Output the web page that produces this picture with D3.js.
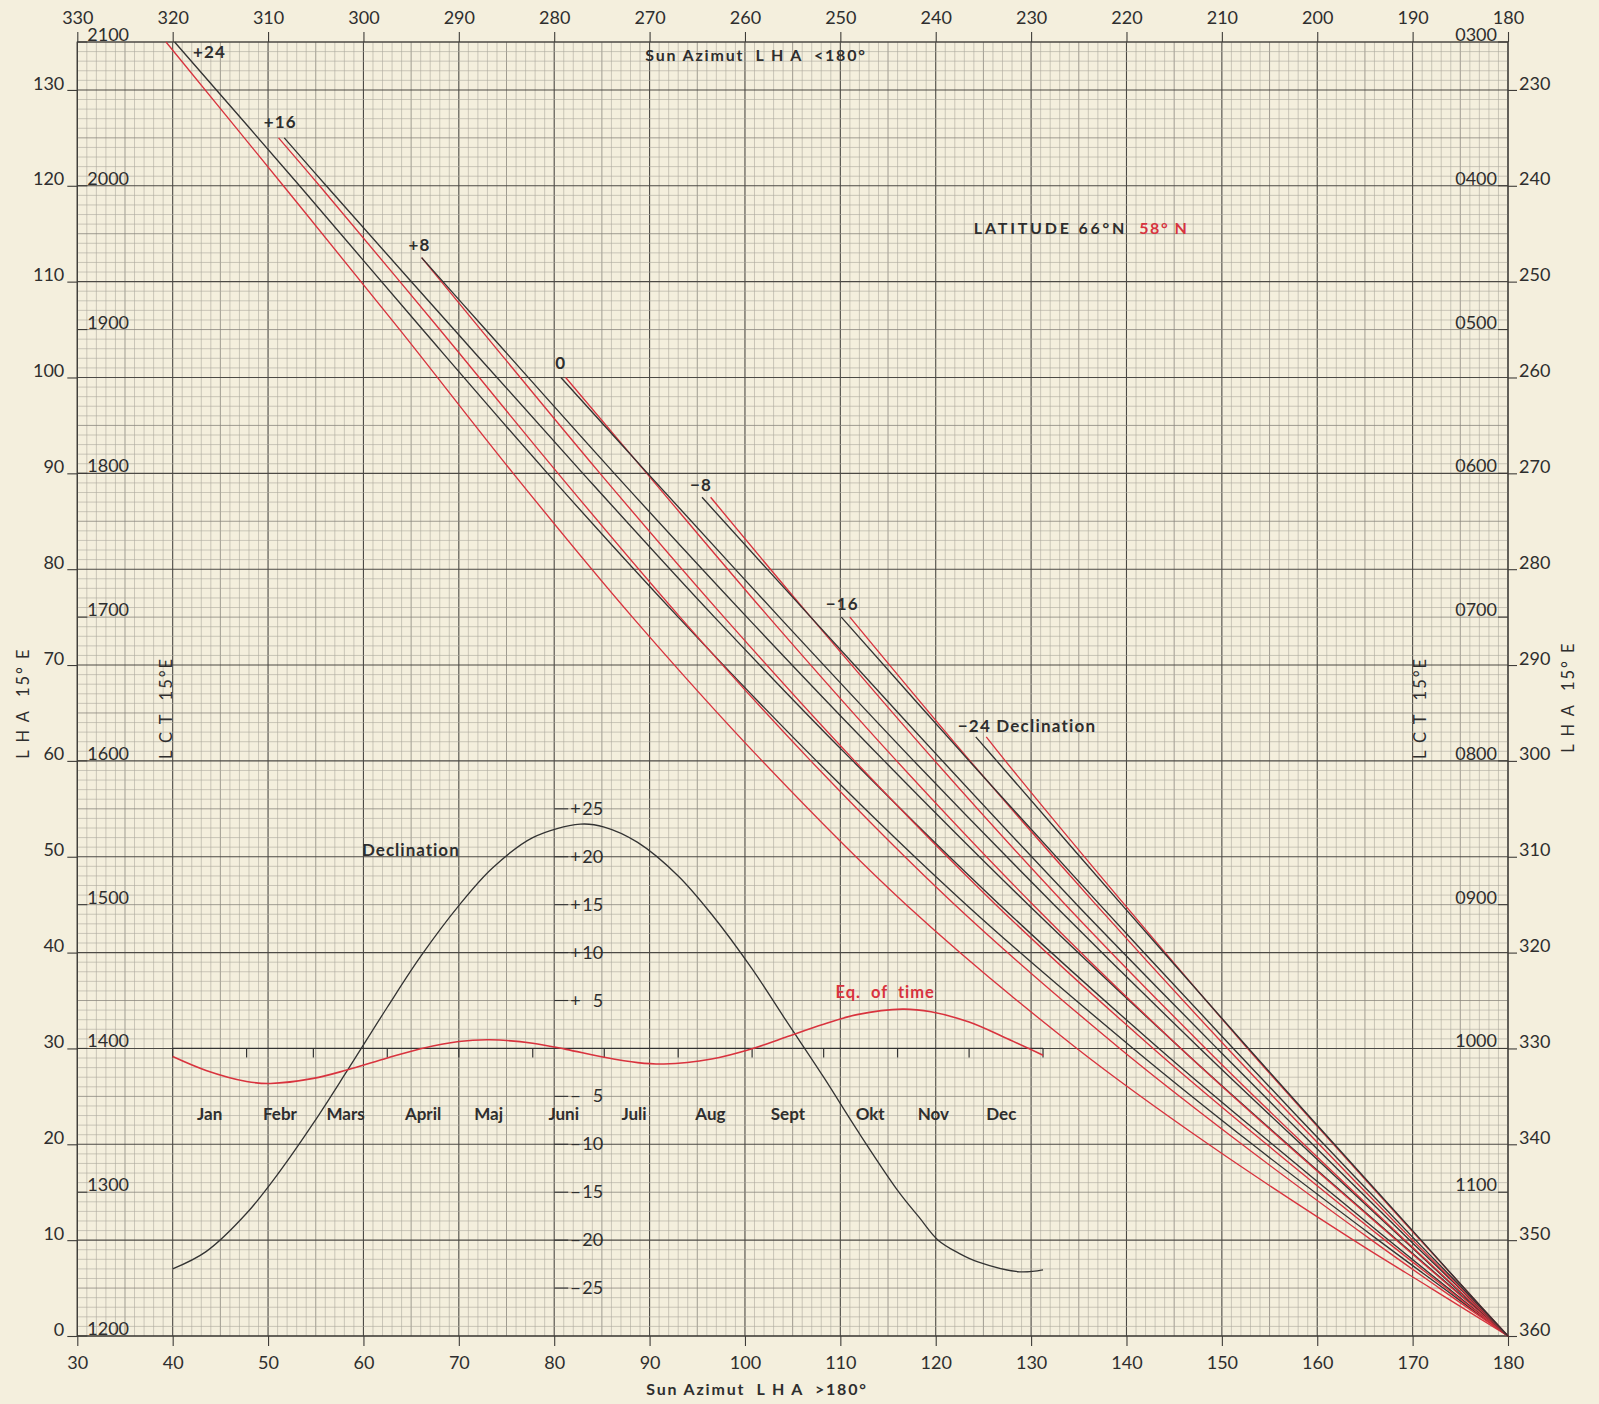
<!DOCTYPE html>
<html lang="en">
<head>
<meta charset="UTF-8">
<title>Sun azimut diagram</title>
<script src="https://d3js.org/d3.v7.min.js"></script>
<style>
  body { margin: 0; background: #f4efdd; }
  svg { display: block; font-family: Lato, "DejaVu Sans", sans-serif; }
  text { white-space: pre; fill: #2e2e2e; }
</style>
</head>
<body>
<script>
// ---- data ----
// azimuth curves: LHA (deg) and sun azimuth (bottom scale) for 66°N (black) and 58°N (red)
const lhaP24 = [135, 120, 105, 90, 75, 60, 45, 30, 20, 10, 5, 0];
const az66P24 = [40.2, 53.3, 66.2, 79.3, 93.0, 107.5, 123.2, 140.7, 153.2, 166.4, 173.2, 180];
const az58P24 = [39.3, 51.6, 63.8, 75.7, 88.2, 101.8, 116.9, 134.8, 148.6, 163.8, 171.9, 180];

const lhaP16 = [125, 120, 105, 90, 75, 60, 45, 30, 20, 10, 5, 0];
const az66P16 = [51.7, 56.1, 69.5, 83.0, 96.8, 111.3, 126.7, 143.4, 155.3, 167.5, 173.7, 180];
const az58P16 = [51.1, 55.4, 68.0, 80.4, 93.2, 106.9, 122.0, 139.3, 152.1, 165.7, 172.8, 180];

const lhaP8 = [112.5, 105, 90, 75, 60, 45, 30, 20, 10, 5, 0];
const az66P8 = [66.1, 72.8, 86.3, 100.2, 114.6, 129.7, 145.7, 156.9, 168.4, 174.2, 180];
const az58P8 = [66.1, 72.3, 84.8, 97.8, 111.5, 126.3, 142.8, 154.7, 167.1, 173.5, 180];

const lhaZ0 = [100, 90, 75, 60, 45, 30, 20, 10, 5, 0];
const az66Z0 = [80.7, 89.8, 103.6, 117.7, 132.4, 147.7, 158.3, 169.1, 174.5, 180];
const az58Z0 = [81.2, 89.7, 102.5, 115.9, 130.2, 145.7, 156.8, 168.3, 174.1, 180];

const lhaM8 = [87.5, 75, 60, 45, 30, 20, 10, 5, 0];
const az66M8 = [95.5, 106.9, 120.7, 134.8, 149.5, 159.5, 169.7, 174.9, 180];
const az58M8 = [96.4, 106.9, 119.9, 133.6, 148.3, 158.6, 169.2, 174.6, 180];

const lhaM16 = [75, 60, 45, 30, 20, 10, 5, 0];
const az66M16 = [110.1, 123.5, 137.2, 151.2, 160.7, 170.3, 175.2, 180];
const az58M16 = [111.0, 123.6, 136.8, 150.6, 160.2, 170.0, 175.0, 180];

const lhaM24 = [62.5, 60, 45, 30, 20, 10, 5, 0];
const az66M24 = [124.2, 126.4, 139.5, 152.8, 161.8, 170.9, 175.4, 180];
const az58M24 = [125.3, 127.3, 139.8, 152.7, 161.7, 170.8, 175.4, 180];

const declLabels = ["+24", "+16", "+8", "0", "−8", "−16", "−24 Declination"];

// year strip
const months = ["Jan", "Febr", "Mars", "April", "Maj", "Juni", "Juli", "Aug", "Sept", "Okt", "Nov", "Dec"];
const monthStart = [0, 31, 59, 90, 120, 151, 181, 212, 243, 273, 304, 334, 365];
const decDays = [0, 14, 31, 45, 59, 73, 90, 104, 120, 134, 151, 171, 181, 195, 212, 226, 243, 257, 273, 287, 304, 313, 321, 330, 338, 355, 365];
const decDeg = [-23.0, -21.2, -17.2, -12.8, -7.8, -2.4, 4.3, 9.6, 14.9, 18.8, 22.0, 23.4, 23.1, 21.5, 18.0, 14.0, 8.3, 3.0, -3.0, -8.5, -14.8, -17.6, -20.0, -21.4, -22.3, -23.3, -23.1];
const eotDays = [0, 14, 31, 41, 59, 73, 90, 104, 120, 133, 151, 165, 181, 195, 206, 226, 243, 257, 273, 287, 306, 318, 334, 348, 365];
const eotMin = [-3.4, -9.2, -13.8, -14.6, -12.5, -9.0, -4.0, -0.1, 2.9, 3.6, 2.2, -0.4, -3.7, -5.9, -6.5, -4.4, -0.1, 4.7, 10.1, 14.1, 16.4, 15.3, 11.0, 5.0, -2.8];
const decScaleTicks = [25, 20, 15, 10, 5, -5, -10, -15, -20, -25];

// ---- chart ----
const W = 1599, H = 1404;
const RED = "#d8333e", INK = "#2e2e2e";

const svg = d3.select("body").append("svg").attr("width", W).attr("height", H);
svg.append("rect").attr("width", W).attr("height", H).attr("fill", "#f4efdd");

const x = d3.scaleLinear().domain([30, 180]).range([77.3, 1508]);
const y = d3.scaleLinear().domain([0, 135]).range([1336, 42]);
const yearX = d3.scaleLinear().domain([0, 365]).range([x(40), x(131.25)]);
const decY = d3.scaleLinear().domain([-30, 25]).range([y(0), y(55)]);     // 1 deg decl = 1 grid unit, 0 at LHA 30
const eotY = d3.scaleLinear().domain([-120, 100]).range([y(0), y(55)]);   // 4 min = 1 grid unit

// grid
const grid = svg.append("g");
const gridColour = v => v % 10 === 0 ? "#4c4a45" : v % 5 === 0 ? "#8a877e" : "#aca99d";
const gridWidth = v => v % 10 === 0 ? 1.1 : v % 5 === 0 ? 0.8 : 0.6;
grid.selectAll(".gx").data(d3.range(30, 181)).join("line")
  .attr("x1", d => x(d)).attr("x2", d => x(d)).attr("y1", y(0)).attr("y2", y(135))
  .attr("stroke", gridColour).attr("stroke-width", gridWidth);
grid.selectAll(".gy").data(d3.range(0, 136)).join("line")
  .attr("y1", d => y(d)).attr("y2", d => y(d)).attr("x1", x(30)).attr("x2", x(180))
  .attr("stroke", gridColour).attr("stroke-width", gridWidth);
svg.append("rect").attr("x", x(30)).attr("y", y(135)).attr("width", x(180) - x(30)).attr("height", y(0) - y(135))
  .attr("fill", "none").attr("stroke", "#3e3c38").attr("stroke-width", 1.2);

// axes
const tick10 = d3.range(30, 181, 10);
const lha10 = d3.range(0, 131, 10);
function styleAxis(g) {
  g.select(".domain").remove();
  g.selectAll("line").attr("stroke", "#3e3c38").attr("stroke-width", 1.1);
  g.selectAll("text").attr("font-size", 18).attr("font-family", "Lato, sans-serif").attr("fill", INK);
}
svg.append("g").attr("transform", `translate(0,${y(135)})`)
  .call(d3.axisTop(x).tickValues(tick10).tickFormat(d => 360 - d).tickSize(10).tickPadding(8)).call(styleAxis);
svg.append("g").attr("transform", `translate(0,${y(0)})`)
  .call(d3.axisBottom(x).tickValues(tick10).tickSize(10).tickPadding(10)).call(styleAxis);
svg.append("g").attr("transform", `translate(${x(30)},0)`)
  .call(d3.axisLeft(y).tickValues(lha10).tickSize(10).tickPadding(3)).call(styleAxis)
  .selectAll("text").attr("dy", "-0.05em");
svg.append("g").attr("transform", `translate(${x(180)},0)`)
  .call(d3.axisRight(y).tickValues(lha10).tickFormat(d => 360 - d).tickSize(9).tickPadding(2)).call(styleAxis)
  .selectAll("text").attr("dy", "-0.05em");

// local clock time labels (15 deg per hour)
const hours = d3.range(0, 136, 15);
const fmtHour = h => String(h).padStart(2, "0") + "00";
const lct = svg.append("g").attr("font-size", 18);
hours.forEach(t => {
  lct.append("line").attr("x1", x(30)).attr("x2", x(30) + 10).attr("y1", y(t)).attr("y2", y(t))
    .attr("stroke", "#3e3c38").attr("stroke-width", 1.1);
  lct.append("text").attr("x", x(30) + 10).attr("y", y(t) - 1).text(fmtHour(12 + t / 15));
  if (t > 0) {
    lct.append("line").attr("x1", x(180) - 10).attr("x2", x(180)).attr("y1", y(t)).attr("y2", y(t))
      .attr("stroke", "#3e3c38").attr("stroke-width", 1.1);
    lct.append("text").attr("x", x(180) - 11).attr("y", y(t) - 1).attr("text-anchor", "end").text(fmtHour(12 - t / 15));
  }
});

// axis titles
svg.append("text").attr("x", 756).attr("y", 61).attr("text-anchor", "middle")
  .attr("font-size", 16).attr("font-weight", 700).attr("letter-spacing", 1.8)
  .text("Sun Azimut  L H A  <180°");
svg.append("text").attr("x", 757).attr("y", 1395).attr("text-anchor", "middle")
  .attr("font-size", 16).attr("font-weight", 700).attr("letter-spacing", 1.8)
  .text("Sun Azimut  L H A  >180°");
[[23, 703, "L H A  15° E"], [166, 708, "L C T  15°E"], [1420, 708, "L C T  15°E"], [1568, 697, "L H A  15° E"]]
  .forEach(([cx, cy, s]) => {
    svg.append("text").attr("transform", `translate(${cx + 6},${cy}) rotate(-90)`)
      .attr("text-anchor", "middle").attr("font-size", 16.5).attr("letter-spacing", 2).text(s);
  });

// azimuth curves
const curves = [
  [lhaP24, az66P24, az58P24], [lhaP16, az66P16, az58P16], [lhaP8, az66P8, az58P8],
  [lhaZ0, az66Z0, az58Z0], [lhaM8, az66M8, az58M8], [lhaM16, az66M16, az58M16], [lhaM24, az66M24, az58M24]
];
const line = d3.line().x(d => x(d[0])).y(d => y(d[1])).curve(d3.curveCatmullRom.alpha(0.5));
const curveG = svg.append("g").attr("fill", "none").attr("stroke-width", 1.35);
curves.forEach(([lha, az66, az58]) => {
  curveG.append("path").attr("d", line(d3.zip(az58, lha))).attr("stroke", RED);
  curveG.append("path").attr("d", line(d3.zip(az66, lha))).attr("stroke", "#333");
});
// labels at the start of each pair (pixel offsets from the black curve start)
const labelShift = [[35, 16, "middle"], [-4, -10, "middle"], [-2, -7, "middle"], [0, -8, "middle"],
  [-1, -6, "middle"], [1, -7, "middle"], [-18, -5, "start"]];
curves.forEach(([lha, az66], i) => {
  const [dx, dy, anchor] = labelShift[i];
  svg.append("text").attr("x", x(az66[0]) + dx).attr("y", y(lha[0]) + dy)
    .attr("text-anchor", anchor).attr("font-size", 17).attr("font-weight", 700)
    .attr("letter-spacing", 1.2).text(declLabels[i]);
});

svg.append("text").attr("x", x(124)).attr("y", y(115.0)).attr("font-size", 16).attr("font-weight", 700)
  .attr("letter-spacing", 2.8).text("LATITUDE 66°N");
svg.append("text").attr("x", x(141.35)).attr("y", y(115.0)).attr("font-size", 16).attr("font-weight", 700)
  .attr("letter-spacing", 1.5).style("fill", RED).text("58° N");

// year strip: month axis on the LHA 30 line
const strip = svg.append("g");
strip.append("line").attr("x1", yearX(0)).attr("x2", yearX(365)).attr("y1", y(30)).attr("y2", y(30))
  .attr("stroke", "#333").attr("stroke-width", 1.3);
strip.selectAll(".mt").data(monthStart).join("line")
  .attr("x1", d => yearX(d)).attr("x2", d => yearX(d)).attr("y1", y(30)).attr("y2", y(30) + 9)
  .attr("stroke", "#333").attr("stroke-width", 1.2);
// month names sit near mid-month; small nudges (days) as lettered on the chart
const monthNudge = [0, 0, -2, 0, -3, -2, -3, -2, 0, 4, 0, -2];
strip.selectAll(".ml").data(months).join("text")
  .attr("x", (d, i) => yearX((monthStart[i] + monthStart[i + 1]) / 2 + monthNudge[i])).attr("y", y(30) + 72)
  .attr("text-anchor", "middle").attr("font-size", 17).attr("font-weight", 700).text(d => d);

const yearLine = d3.line().curve(d3.curveCatmullRom.alpha(0.5));
strip.append("path").attr("fill", "none").attr("stroke", "#333").attr("stroke-width", 1.3)
  .attr("d", yearLine(d3.zip(decDays.map(yearX), decDeg.map(decY))));
strip.append("path").attr("fill", "none").attr("stroke", RED).attr("stroke-width", 1.6)
  .attr("d", yearLine(d3.zip(eotDays.map(yearX), eotMin.map(eotY))));

// declination scale on the 80 line
decScaleTicks.forEach(v => {
  strip.append("line").attr("x1", x(80)).attr("x2", x(80) + 14).attr("y1", decY(v)).attr("y2", decY(v))
    .attr("stroke", "#333").attr("stroke-width", 1.1);
  strip.append("text").attr("x", x(80) + 16).attr("y", decY(v) + 6).attr("font-size", 18)
    .text(v > 0 ? "+" : "−");
  strip.append("text").attr("x", x(80) + 49).attr("y", decY(v) + 6).attr("font-size", 18)
    .attr("text-anchor", "end").text(Math.abs(v));
});
strip.append("text").attr("x", x(59.85)).attr("y", y(50.1)).attr("font-size", 17).attr("font-weight", 700)
  .attr("letter-spacing", 1).text("Declination");
strip.append("text").attr("x", x(109.5)).attr("y", y(35.25)).attr("font-size", 16.5).attr("font-weight", 700)
  .attr("letter-spacing", 1).style("fill", RED).text("Eq.  of  time");
</script>
</body>
</html>
